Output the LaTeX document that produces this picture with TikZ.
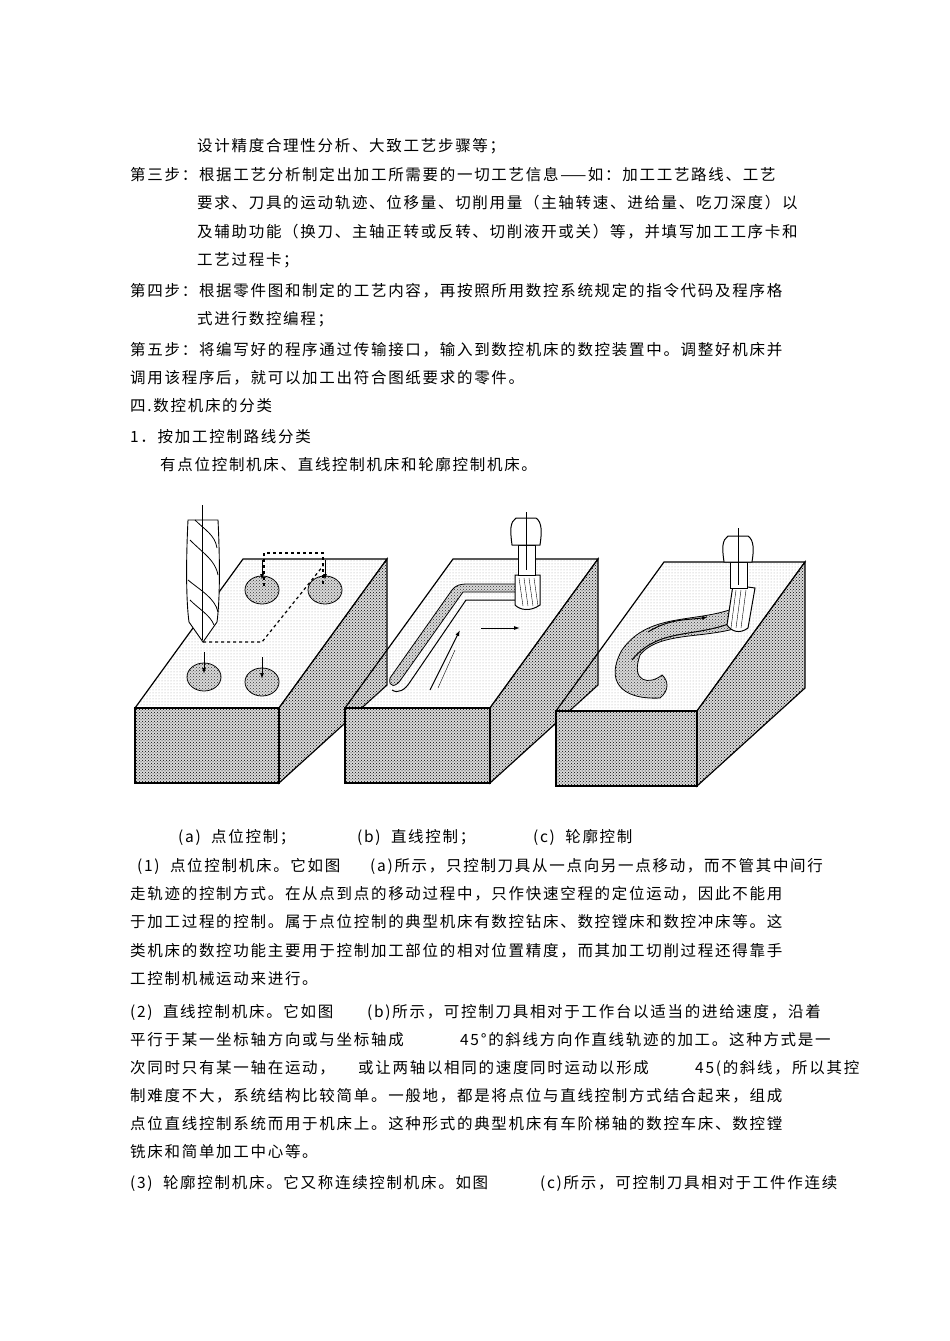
\documentclass[tikz,border=0pt]{standalone}
\usepackage{fontspec}
\setmainfont{Liberation Serif}
\newfontfamily\cjk[LetterSpace=11]{Noto Sans CJK SC}
\usetikzlibrary{patterns,arrows.meta}
\begin{document}
\begin{tikzpicture}[x=1pt,y=-1pt,
  tx/.style={anchor=base west,inner sep=0pt,font=\cjk\fontsize{15.5}{18}\selectfont},
  topf/.style={draw,line width=1.2pt,pattern=dots,pattern color=gray!70},
  sidef/.style={draw,line width=1.2pt,pattern=crosshatch dots,pattern color=black},
  grv/.style={draw,line width=0.8pt,pattern=crosshatch dots,pattern color=black!80},
  ar/.style={-{Latex[length=6pt,width=4pt]},line width=1pt}]
\useasboundingbox (0,0) rectangle (950,1341);
\fill[white] (0,0) rectangle (950,1341);
% text
\node[tx] (t1) at (197,151) {设计精度合理性分析、大致工艺步骤等；};
\node[tx] (t2) at (130,180) {第三步：根据工艺分析制定出加工所需要的一切工艺信息——如：加工工艺路线、工艺};
\node[tx] (t3) at (197,208) {要求、刀具的运动轨迹、位移量、切削用量（主轴转速、进给量、吃刀深度）以};
\node[tx] (t4) at (197,237) {及辅助功能（换刀、主轴正转或反转、切削液开或关）等，并填写加工工序卡和};
\node[tx] (t5) at (197,265) {工艺过程卡；};
\node[tx] (t6) at (130,296) {第四步：根据零件图和制定的工艺内容，再按照所用数控系统规定的指令代码及程序格};
\node[tx] (t7) at (197,324) {式进行数控编程；};
\node[tx] (t8) at (130,355) {第五步：将编写好的程序通过传输接口，输入到数控机床的数控装置中。调整好机床并};
\node[tx] (t9) at (130,383) {调用该程序后，就可以加工出符合图纸要求的零件。};
\node[tx] (t10) at (130,411) {四.数控机床的分类};
\node[tx] (t11) at (130,442) {1．按加工控制路线分类};
\node[tx] (t12) at (160,470) {有点位控制机床、直线控制机床和轮廓控制机床。};
\node[tx] (ca) at (178,842) {(a)\ \ 点位控制；};
\node[tx] (cb) at (357,842) {(b)\ \ 直线控制；};
\node[tx] (cc) at (533,842) {(c)\ \ 轮廓控制};
\node[tx] (p1) at (137,871) {(1)\ \ 点位控制机床。它如图};
\node[tx] (p1b) at (370,871) {(a)所示，只控制刀具从一点向另一点移动，而不管其中间行};
\node[tx] (p2) at (130,899) {走轨迹的控制方式。在从点到点的移动过程中，只作快速空程的定位运动，因此不能用};
\node[tx] (p3) at (130,927) {于加工过程的控制。属于点位控制的典型机床有数控钻床、数控镗床和数控冲床等。这};
\node[tx] (p4) at (130,956) {类机床的数控功能主要用于控制加工部位的相对位置精度，而其加工切削过程还得靠手};
\node[tx] (p5) at (130,984) {工控制机械运动来进行。};
\node[tx] (q1) at (130,1017) {(2)\ \ 直线控制机床。它如图};
\node[tx] (q1b) at (367,1017) {(b)所示，可控制刀具相对于工作台以适当的进给速度，沿着};
\node[tx] (q2) at (130,1045) {平行于某一坐标轴方向或与坐标轴成};
\node[tx] (q2b) at (460,1045) {45°的斜线方向作直线轨迹的加工。这种方式是一};
\node[tx] (q3) at (130,1073) {次同时只有某一轴在运动，};
\node[tx] (q3b) at (358,1073) {或让两轴以相同的速度同时运动以形成};
\node[tx] (q3c) at (695,1073) {45(的斜线，};
\node[tx] (q3d) at (792,1073) {所以其控};
\node[tx] (q4) at (130,1101) {制难度不大，系统结构比较简单。一般地，都是将点位与直线控制方式结合起来，组成};
\node[tx] (q5) at (130,1129) {点位直线控制系统而用于机床上。这种形式的典型机床有车阶梯轴的数控车床、数控镗};
\node[tx] (q6) at (130,1157) {铣床和简单加工中心等。};
\node[tx] (r1) at (130,1188) {(3)\ \ 轮廓控制机床。它又称连续控制机床。如图};
\node[tx] (r1b) at (540,1188) {(c)所示，可控制刀具相对于工件作连续};
% blocks
\foreach \dx/\dy/\w in {0/0/144, 210/0/145, 421/3/141}{
 \begin{scope}[shift={(\dx,\dy)}]
  \path[topf] (135,708) -- (243,559) -- (243+\w,559) -- (135+\w,708) -- cycle;
  \fill[gray!30] (135+\w,708) -- (243+\w,559) -- (243+\w,685) -- (135+\w,783) -- cycle;
  \path[sidef] (135+\w,708) -- (243+\w,559) -- (243+\w,685) -- (135+\w,783) -- cycle;
  \fill[gray!30] (135,708) rectangle (135+\w,783);
  \path[sidef] (135,708) rectangle (135+\w,783);
 \end{scope}}
% block a: holes and drill
\foreach \n/\cx/\cy in {h1/204/677,h2/262/682,h3/262/590,h4/325/590}{
  \fill[gray!30] (\cx,\cy) ellipse (17 and 14);
  \path[grv] (\cx,\cy) ellipse (17 and 14);
  \coordinate (\n) at (\cx,\cy);}
\draw[dashed,line width=1.2pt] (264,586) -- (264,553) -- (323,553) -- (323,586);
\draw[dashed,line width=1.2pt] (203,642) -- (262,642) -- (323,566);
\foreach \n in {h1,h2}{\draw[ar] (\n) ++(0,-25) -- ++(0,22);}
\foreach \n in {h3,h4}{\draw[ar] (\n) ++(0,-30) -- ++(0,20);}
\draw[line width=0.9pt,fill=white] (188,520) .. controls (186,560) and (186,600) .. (189,622) -- (203,642) -- (217,622) .. controls (220,600) and (220,560) .. (218,520) -- cycle;
\draw[line width=0.8pt] (190,540) .. controls (205,555) and (215,560) .. (218,575);
\draw[line width=0.8pt] (188,580) .. controls (200,590) and (215,598) .. (218,612);
\draw[line width=0.8pt] (195,520) .. controls (205,530) and (215,535) .. (217,548);
\draw[line width=0.8pt] (190,600) .. controls (200,610) and (210,615) .. (214,625);
\draw (202,505) -- (202,640);
% block b: groove
\fill[gray!30] (532,592) -- (463,592) -- (402,678) .. controls (396,688) and (388,688) .. (390,678) -- (452,590) .. controls (456,585) and (460,584) .. (468,584) -- (532,584) -- cycle;
\path[grv] (532,592) -- (463,592) -- (402,678) .. controls (396,688) and (388,688) .. (390,678) -- (452,590) .. controls (456,585) and (460,584) .. (468,584) -- (532,584) -- cycle;
\draw[line width=1pt] (392,690) .. controls (398,694) and (405,690) .. (410,682) -- (466,600) -- (515,600);
\draw[ar] (481,628) -- (520,628);
\draw[ar] (430,690) -- (460,630);
\draw (455,650) -- (438,688);
% cutter b
\draw[line width=1pt,fill=white] (515,605) -- (515,575) -- (540,575) -- (540,605) .. controls (530,612) and (520,610) .. (515,605);
\foreach \xx in {519,524,529,534}{\draw (\xx,578) -- (\xx+4,606);}
\draw[line width=1pt,fill=white] (518,545) rectangle (535,575);
\draw[line width=1pt,fill=white] (512,545) .. controls (510,530) and (510,522) .. (516,518) -- (536,518) .. controls (542,522) and (542,532) .. (540,545) -- cycle;
\draw (526,512) -- (526,570);
% block c: S groove
\fill[gray!30] (742,605) .. controls (700,625) and (650,610) .. (622,650) .. controls (605,680) and (620,700) .. (660,698) .. controls (670,690) and (668,680) .. (662,675) .. controls (650,685) and (630,683) .. (640,655) .. controls (660,630) and (710,640) .. (745,625) -- cycle;
\path[grv] (742,605) .. controls (700,625) and (650,610) .. (622,650) .. controls (605,680) and (620,700) .. (660,698) .. controls (670,690) and (668,680) .. (662,675) .. controls (650,685) and (630,683) .. (640,655) .. controls (660,630) and (710,640) .. (745,625) -- cycle;
\draw[line width=1pt] (632,660) .. controls (660,625) and (700,640) .. (742,618);
\draw[ar] (648,632) .. controls (670,618) and (690,620) .. (708,617);
% cutter c
\draw[line width=1pt,fill=white] (727,625) -- (733,585) -- (755,588) -- (748,628) .. controls (740,634) and (732,632) .. (727,625);
\foreach \xx in {736,741,746}{\draw (\xx,590) -- (\xx-5,628);}
\draw[line width=1pt,fill=white] (730,562) rectangle (747,588);
\draw[line width=1pt,fill=white] (724,562) .. controls (722,548) and (722,540) .. (728,536) -- (748,536) .. controls (754,540) and (754,550) .. (752,562) -- cycle;
\draw (738,528) -- (738,585);
\end{tikzpicture}
\end{document}
